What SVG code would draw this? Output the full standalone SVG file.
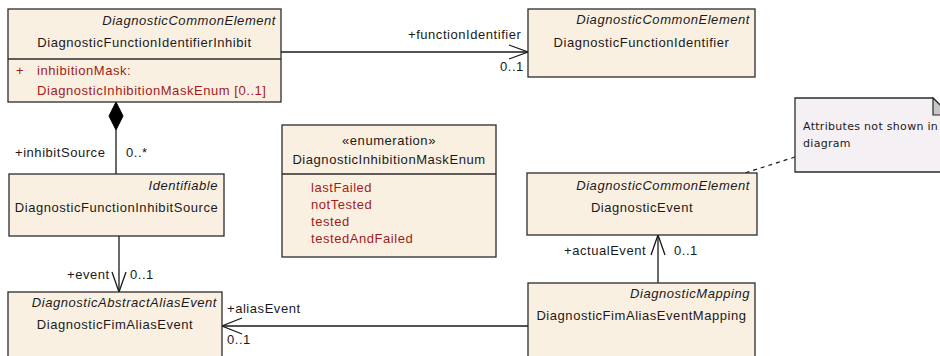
<svg xmlns="http://www.w3.org/2000/svg" width="940" height="356" viewBox="0 0 940 356">
<defs>
<style>
text{font-family:"Liberation Sans",Arial,sans-serif;font-size:13px;letter-spacing:0.55px;fill:#1a1a1a}
.st{font-style:italic}
.mid{text-anchor:middle}
.end{text-anchor:end}
.attr{fill:#a01c1c}
.box{fill:#faf0e2;stroke:#2b2b2b;stroke-width:1.3}
.sep{stroke:#2b2b2b;stroke-width:1.3}
.note{fill:#f5f0f4;stroke:#2b2b2b;stroke-width:1.3}
.ntext{font-family:"DejaVu Sans",Tahoma,sans-serif;font-size:11px;letter-spacing:0.3px}
.ln{fill:none;stroke:#1a1a1a;stroke-width:1.3}
.dash{fill:none;stroke:#1a1a1a;stroke-width:1.2;stroke-dasharray:4 4}
</style>
</defs>
<rect width="940" height="356" fill="#ffffff"/>

<g id="connectors">
<line class="ln" x1="281" y1="52" x2="528" y2="52"/>
<polyline class="ln" points="509,45 528,52 509,59"/>
<line class="ln" x1="116" y1="130" x2="116" y2="174"/>
<polygon points="116,102 123,116 116,130 109,116" fill="#000" stroke="#000" stroke-width="1"/>
<line class="ln" x1="119" y1="236" x2="119" y2="292"/>
<polyline class="ln" points="112,272 119,292 126,272"/>
<line class="ln" x1="528" y1="326" x2="222" y2="326"/>
<polyline class="ln" points="242,318 222,326 242,334"/>
<line class="ln" x1="658" y1="283" x2="658" y2="235"/>
<polyline class="ln" points="651,255 658,235 665,255"/>
<line class="dash" x1="795" y1="157" x2="745" y2="173"/>
<text x="408" y="39">+functionIdentifier</text>
<text x="500" y="71">0..1</text>
<text x="15" y="157">+inhibitSource</text>
<text x="126" y="157">0..*</text>
<text x="67" y="279">+event</text>
<text x="130" y="279">0..1</text>
<text x="227" y="313">+aliasEvent</text>
<text x="227" y="344">0..1</text>
<text x="564" y="255">+actualEvent</text>
<text x="674" y="255">0..1</text>
</g>

<g id="DiagnosticFunctionIdentifierInhibit">
<rect class="box" x="8" y="9" width="273" height="93"/>
<line class="sep" x1="8" y1="59" x2="281" y2="59"/>
<text class="st end" x="276" y="25">DiagnosticCommonElement</text>
<text class="mid" x="144.5" y="47">DiagnosticFunctionIdentifierInhibit</text>
<text class="attr" x="16" y="75">+</text>
<text class="attr" x="37" y="75">inhibitionMask:</text>
<text class="attr" x="37" y="95">DiagnosticInhibitionMaskEnum [0..1]</text>
</g>

<g id="DiagnosticFunctionIdentifier">
<rect class="box" x="528" y="9" width="227" height="68"/>
<text class="st end" x="750" y="24">DiagnosticCommonElement</text>
<text class="mid" x="641.5" y="47">DiagnosticFunctionIdentifier</text>
</g>

<g id="DiagnosticFunctionInhibitSource">
<rect class="box" x="9" y="174" width="215" height="62"/>
<text class="st end" x="218" y="190">Identifiable</text>
<text class="mid" x="116.5" y="212">DiagnosticFunctionInhibitSource</text>
</g>

<g id="DiagnosticInhibitionMaskEnum">
<rect class="box" x="282" y="125" width="214" height="132"/>
<line class="sep" x1="282" y1="174" x2="496" y2="174"/>
<text class="mid" x="389" y="145">«enumeration»</text>
<text class="mid" x="389" y="164">DiagnosticInhibitionMaskEnum</text>
<text class="attr" x="311" y="192">lastFailed</text>
<text class="attr" x="311" y="209">notTested</text>
<text class="attr" x="311" y="226">tested</text>
<text class="attr" x="311" y="243">testedAndFailed</text>
</g>

<g id="DiagnosticEvent">
<rect class="box" x="527" y="173" width="230" height="62"/>
<text class="st end" x="750" y="190">DiagnosticCommonElement</text>
<text class="mid" x="642" y="212">DiagnosticEvent</text>
</g>

<g id="DiagnosticFimAliasEvent">
<rect class="box" x="8" y="292" width="214" height="80"/>
<text class="st end" x="217" y="307">DiagnosticAbstractAliasEvent</text>
<text class="mid" x="115" y="329">DiagnosticFimAliasEvent</text>
</g>

<g id="DiagnosticFimAliasEventMapping">
<rect class="box" x="528" y="283" width="227" height="90"/>
<text class="st end" x="750" y="298">DiagnosticMapping</text>
<text class="mid" x="641.5" y="320">DiagnosticFimAliasEventMapping</text>
</g>

<g id="note">
<path class="note" d="M795,98 H933 L950,115 V172 H795 Z"/>
<path d="M933,98 V115 H950 Z" fill="#c8c8c8" stroke="#2b2b2b" stroke-width="1.2"/>
<text class="ntext" x="803" y="130">Attributes not shown in</text>
<text class="ntext" x="803" y="147">diagram</text>
</g>
</svg>
